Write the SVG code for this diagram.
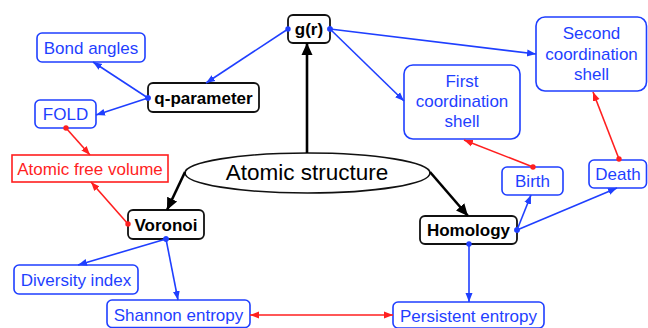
<svg xmlns="http://www.w3.org/2000/svg" width="648" height="328" viewBox="0 0 648 328">
<style>
.bb{fill:#fff;stroke:#1f3fff;stroke-width:1.6}
.kb{fill:#fff;stroke:#111;stroke-width:1.8}
.rb{fill:#fff;stroke:#ff1f1f;stroke-width:1.6}
.t{font-family:"Liberation Sans",Arial,sans-serif;font-size:17px;text-anchor:middle}
.bt{fill:#1f3fff}
.rt{fill:#ff1f1f}
.kt{fill:#000;font-weight:bold}
.bl{stroke:#1f3fff;stroke-width:1.6;fill:none;marker-start:url(#bd);marker-end:url(#ba)}
.rl{stroke:#ff1f1f;stroke-width:1.6;fill:none;marker-start:url(#rd);marker-end:url(#ra)}
.kl{stroke:#000;stroke-width:2.6;fill:none;marker-end:url(#ka)}
</style>
<defs>
<marker id="ba" markerUnits="userSpaceOnUse" markerWidth="10" markerHeight="10" viewBox="0 0 10 10" refX="9" refY="5" orient="auto"><path d="M0,1.5 L9,5 L0,8.5 Z" fill="#1f3fff"/></marker>
<marker id="bd" markerUnits="userSpaceOnUse" markerWidth="6" markerHeight="6" viewBox="0 0 6 6" refX="3" refY="3"><circle cx="3" cy="3" r="2.7" fill="#1f3fff"/></marker>
<marker id="ra" markerUnits="userSpaceOnUse" markerWidth="10" markerHeight="10" viewBox="0 0 10 10" refX="9" refY="5" orient="auto"><path d="M0,1.5 L9,5 L0,8.5 Z" fill="#ff1f1f"/></marker>
<marker id="rd" markerUnits="userSpaceOnUse" markerWidth="6" markerHeight="6" viewBox="0 0 6 6" refX="3" refY="3"><circle cx="3" cy="3" r="2.7" fill="#ff1f1f"/></marker>
<marker id="ras" markerUnits="userSpaceOnUse" markerWidth="10" markerHeight="10" viewBox="0 0 10 10" refX="9" refY="5" orient="auto-start-reverse"><path d="M0,1.5 L9,5 L0,8.5 Z" fill="#ff1f1f"/></marker>
<marker id="ka" markerUnits="userSpaceOnUse" markerWidth="14" markerHeight="14" viewBox="0 0 14 14" refX="12" refY="7" orient="auto"><path d="M0,1.5 L12,7 L0,12.5 Z" fill="#000"/></marker>
</defs>
<g id="atomic-structure">
<ellipse cx="307.5" cy="173" rx="122.5" ry="20" fill="#fff" stroke="#111" stroke-width="1.6"/>
<text class="t" x="307" y="180" style="font-size:22.5px" fill="#000">Atomic structure</text>
</g>
<g id="gr"><rect class="kb" x="288" y="15" width="42" height="28" rx="5"/><text class="t kt" x="309" y="35">g(r)</text></g>
<g id="bond-angles"><rect class="bb" x="37" y="33" width="108" height="29" rx="5"/><text class="t bt" x="91" y="53.5">Bond angles</text></g>
<g id="q-parameter"><rect class="kb" x="148" y="83" width="111" height="29" rx="5"/><text class="t kt" x="203.5" y="103.5">q-parameter</text></g>
<g id="fold"><rect class="bb" x="35" y="100" width="61" height="28" rx="5"/><text class="t bt" x="65.5" y="120">FOLD</text></g>
<g id="atomic-free-volume"><rect class="rb" x="12" y="155" width="156" height="27"/><text class="t rt" x="90" y="174.5">Atomic free volume</text></g>
<g id="voronoi"><rect class="kb" x="128" y="210" width="76" height="29" rx="5"/><text class="t kt" x="166" y="230.5">Voronoi</text></g>
<g id="diversity-index"><rect class="bb" x="14" y="265" width="124" height="29" rx="5"/><text class="t bt" x="76" y="285.5">Diversity index</text></g>
<g id="shannon-entropy"><rect class="bb" x="107" y="300" width="143" height="27.5" rx="5"/><text class="t bt" x="178.5" y="320.5">Shannon entropy</text></g>
<g id="homology"><rect class="kb" x="420" y="216" width="97" height="28" rx="5"/><text class="t kt" x="468.5" y="236">Homology</text></g>
<g id="persistent-entropy"><rect class="bb" x="393" y="302" width="151" height="26" rx="5"/><text class="t bt" x="468.5" y="322">Persistent entropy</text></g>
<g id="birth"><rect class="bb" x="502" y="167" width="61" height="28" rx="5"/><text class="t bt" x="532.5" y="187">Birth</text></g>
<g id="death"><rect class="bb" x="589" y="160" width="57.5" height="28" rx="5"/><text class="t bt" x="618" y="180">Death</text></g>
<g id="first-coordination-shell"><rect class="bb" x="404" y="65" width="116" height="74" rx="9"/>
<text class="t bt" x="462" y="87">First</text><text class="t bt" x="462" y="107">coordination</text><text class="t bt" x="462" y="127">shell</text></g>
<g id="second-coordination-shell"><rect class="bb" x="536" y="17" width="110.5" height="74" rx="9"/>
<text class="t bt" x="591.5" y="39">Second</text><text class="t bt" x="591.5" y="60">coordination</text><text class="t bt" x="591.5" y="80">shell</text></g>
<g id="connectors">
<line class="kl" x1="307" y1="153" x2="307" y2="43"/>
<line class="kl" x1="185" y1="172" x2="167" y2="210"/>
<line class="kl" x1="430" y1="172" x2="468" y2="216"/>
<line class="bl" x1="288" y1="29" x2="206" y2="83"/>
<line class="bl" x1="330" y1="29" x2="536" y2="54"/>
<line class="bl" x1="330" y1="29" x2="404" y2="101"/>
<line class="bl" x1="148" y1="98" x2="93" y2="62"/>
<line class="bl" x1="148" y1="98" x2="96" y2="115"/>
<line class="rl" x1="66" y1="128" x2="90" y2="155"/>
<line class="rl" x1="128" y1="224" x2="91" y2="182"/>
<line class="bl" x1="166" y1="239" x2="78" y2="265"/>
<line class="bl" x1="166" y1="239" x2="178" y2="300"/>
<line x1="250" y1="315" x2="393" y2="315" stroke="#ff1f1f" stroke-width="1.6" marker-start="url(#ras)" marker-end="url(#ras)"/>
<line class="bl" x1="469" y1="244" x2="469" y2="302"/>
<line class="bl" x1="517" y1="230" x2="531" y2="195"/>
<line class="bl" x1="517" y1="230" x2="617" y2="188"/>
<line class="rl" x1="533" y1="167" x2="464" y2="140"/>
<line class="rl" x1="619" y1="159" x2="593" y2="92"/>
</g>
</svg>
